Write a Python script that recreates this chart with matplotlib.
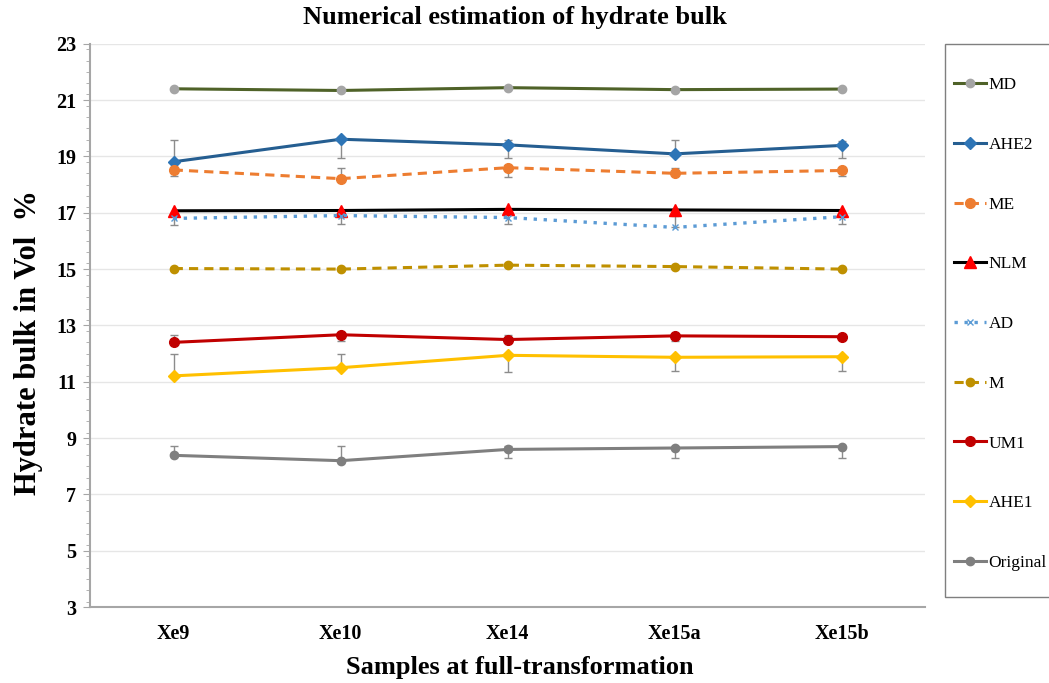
import numpy as np
import matplotlib
matplotlib.use("Agg")
import matplotlib.pyplot as plt
from matplotlib.ticker import MultipleLocator
from matplotlib.patches import Rectangle

plt.rcParams['font.family'] = ['Liberation Serif', 'DejaVu Serif']

samples = ['Xe9', 'Xe10', 'Xe14', 'Xe15a', 'Xe15b']

md = [21.40, 21.34, 21.44, 21.37, 21.39]
ahe2 = [18.81, 19.61, 19.41, 19.09, 19.39]
me = [18.52, 18.21, 18.60, 18.40, 18.50]
nlm = [17.07, 17.08, 17.12, 17.10, 17.08]
ad = [16.80, 16.90, 16.83, 16.48, 16.86]
m = [15.02, 15.00, 15.14, 15.09, 15.00]
um1 = [12.40, 12.67, 12.50, 12.63, 12.60]
ahe1 = [11.21, 11.50, 11.94, 11.87, 11.89]
original = [8.39, 8.20, 8.60, 8.65, 8.70]

# error bars (lower, upper)
ahe2_err = [[0.20, 0.67, 0.48, 0.00, 0.46], [0.77, 0.00, 0.17, 0.51, 0.15]]
me_err = [[0.23, 0.00, 0.32, 0.00, 0.21], [0.00, 0.39, 0.00, 0.20, 0.00]]
ad_err = [[0.23, 0.30, 0.23, 0.00, 0.26], [0.10, 0.00, 0.10, 0.42, 0.00]]
um1_err = [[0.00, 0.22, 0.05, 0.18, 0.05], [0.26, 0.00, 0.15, 0.00, 0.05]]
ahe1_err = [[0.00, 0.00, 0.59, 0.50, 0.52], [0.77, 0.49, 0.00, 0.00, 0.00]]
orig_err = [[0.00, 0.00, 0.30, 0.35, 0.40], [0.34, 0.53, 0.12, 0.05, 0.00]]

fig = plt.figure(figsize=(10.49, 6.83), dpi=100)
ax = fig.add_axes([0.086, 0.111, 0.796, 0.825])

x = np.arange(len(samples)) + 0.5
ecol = '#8C8C8C'

def draw(y, err, label, color, ls, marker, mfc, ms, lw=2.2):
    ax.plot(x, y, color=color, linestyle=ls, linewidth=lw, marker=marker,
            markerfacecolor=mfc, markeredgecolor=mfc, markersize=ms, label=label, zorder=3)
    if err is not None:
        ax.errorbar(x, y, yerr=err, fmt='none', ecolor=ecol, elinewidth=1,
                    capsize=3, capthick=1, zorder=2)

draw(md, None, 'MD', '#4F6228', '-', 'o', '#A5A5A5', 6)
draw(ahe2, ahe2_err, 'AHE2', '#255E91', '-', 'D', '#2E75B6', 6.5)
draw(me, me_err, 'ME', '#ED7D31', (0, (3, 2)), 'o', '#ED7D31', 7)
draw(nlm, None, 'NLM', '#000000', '-', '^', '#FF0000', 8)
draw(ad, ad_err, 'AD', '#5B9BD5', (0, (1, 2)), 'x', '#5B9BD5', 5, lw=2.4)
draw(m, None, 'M', '#BF9000', (0, (3, 2)), 'o', '#BF9000', 6)
draw(um1, um1_err, 'UM1', '#C00000', '-', 'o', '#C00000', 7)
draw(ahe1, ahe1_err, 'AHE1', '#FFC000', '-', 'D', '#FFC000', 6)
draw(original, orig_err, 'Original', '#7F7F7F', '-', 'o', '#7F7F7F', 6)

ax.set_xlim(0, 5)
ax.set_ylim(3, 23)
ax.set_xticks(x)
ax.set_xticklabels(samples, fontsize=14.5, fontweight='bold')
ax.yaxis.set_major_locator(MultipleLocator(2))
ax.yaxis.set_minor_locator(MultipleLocator(0.4))
ax.set_yticks(np.arange(3, 24, 2))
for lab in ax.get_yticklabels():
    lab.set_fontsize(14.5)
    lab.set_fontweight('bold')
ax.tick_params(axis='x', length=0, pad=12)
ax.tick_params(axis='y', which='major', direction='out', length=5, color='#A6A6A6', pad=5)
ax.tick_params(axis='y', which='minor', direction='out', length=3, color='#A6A6A6')
ax.grid(axis='y', which='major', color='#E6E6E6', linewidth=1)
ax.set_axisbelow(True)
for s in ['top', 'right']:
    ax.spines[s].set_visible(False)
for s in ['left', 'bottom']:
    ax.spines[s].set_color('#A6A6A6')
    ax.spines[s].set_linewidth(1.5)

fig.text(0.027, 0.499, 'Hydrate bulk in Vol  %', rotation=90, fontsize=22,
         fontweight='bold', ha='center', va='center')
fig.text(0.496, 0.022, 'Samples at full-transformation', fontsize=19,
         fontweight='bold', ha='center', va='center')
fig.text(0.491, 0.974, 'Numerical estimation of hydrate bulk', fontsize=19,
         fontweight='bold', ha='center', va='center')

# legend frame drawn separately so that it can run off the right edge
fig.patches.append(Rectangle((0.9009, 0.1259), 0.12, 0.8097, transform=fig.transFigure,
                             facecolor='white', edgecolor='#7F7F7F', linewidth=1, zorder=0))
leg = fig.legend(loc='upper left', bbox_to_anchor=(0.9009, 0.9), fontsize=12.5,
                 labelspacing=2.51, handlelength=1.85, handletextpad=0.15,
                 borderpad=0.5, borderaxespad=0, frameon=False)

fig.savefig('out.png', dpi=100)
